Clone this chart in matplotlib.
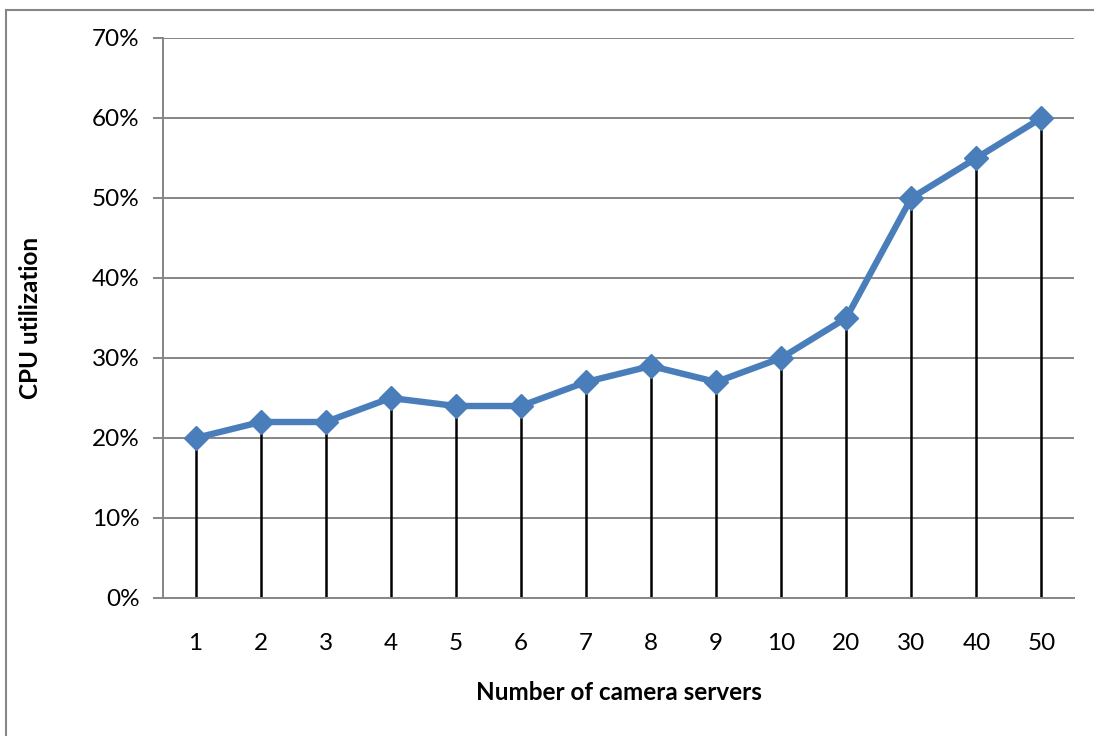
import matplotlib
matplotlib.use("Agg")
import matplotlib.pyplot as plt
from matplotlib.ticker import FuncFormatter
from matplotlib.patches import Rectangle

categories = ["1", "2", "3", "4", "5", "6", "7", "8", "9", "10", "20", "30", "40", "50"]
cpu_util = [20, 22, 22, 25, 24, 24, 27, 29, 27, 30, 35, 50, 55, 60]
y_ticks = [0, 10, 20, 30, 40, 50, 60, 70]

plt.rcParams["font.family"] = ["Lato", "DejaVu Sans"]

fig = plt.figure(figsize=(10.94, 7.36), dpi=100)
W, H = 1094, 736
ax = fig.add_axes([163 / W, 1 - 598 / H, (1074 - 163) / W, (598 - 38) / H])

# chart border
fig.patches.append(Rectangle((6 / W, -0.1), 1.2, 1 - 10 / H + 0.1,
                             transform=fig.transFigure, fill=False,
                             edgecolor="#868686", linewidth=1.5))

x = list(range(len(categories)))
grid_c = "#868686"

for yt in y_ticks:
    ax.axhline(yt, color=grid_c, linewidth=1.4, zorder=1)

ax.vlines(x, 0, cpu_util, color="black", linewidth=1.8, zorder=2)
ax.plot(x, cpu_util, color="#4A7EBB", linewidth=4.6, marker="D",
        markersize=12, markerfacecolor="#4A7EBB", markeredgecolor="#4A7EBB",
        zorder=3, solid_capstyle="round")

ax.set_xlim(-0.5, len(categories) - 0.5)
ax.set_ylim(0, 70)
ax.set_yticks(y_ticks)
ax.yaxis.set_major_formatter(FuncFormatter(lambda v, p: f"{int(v)}%"))
ax.set_xticks(x)
ax.set_xticklabels(categories)

for s in ["top", "right"]:
    ax.spines[s].set_visible(False)
for s in ["left", "bottom"]:
    ax.spines[s].set_color(grid_c)
    ax.spines[s].set_linewidth(1.4)

ax.tick_params(axis="y", length=7, width=1.4, color=grid_c, labelsize=17.5, pad=10)
ax.tick_params(axis="x", length=0, labelsize=17.5, pad=25)

ax.set_ylabel("CPU utilization", fontsize=17.5, fontweight="bold", labelpad=36)
ax.set_xlabel("Number of camera servers", fontsize=17.5, fontweight="bold", labelpad=20)

fig.savefig("out.png", dpi=100)
